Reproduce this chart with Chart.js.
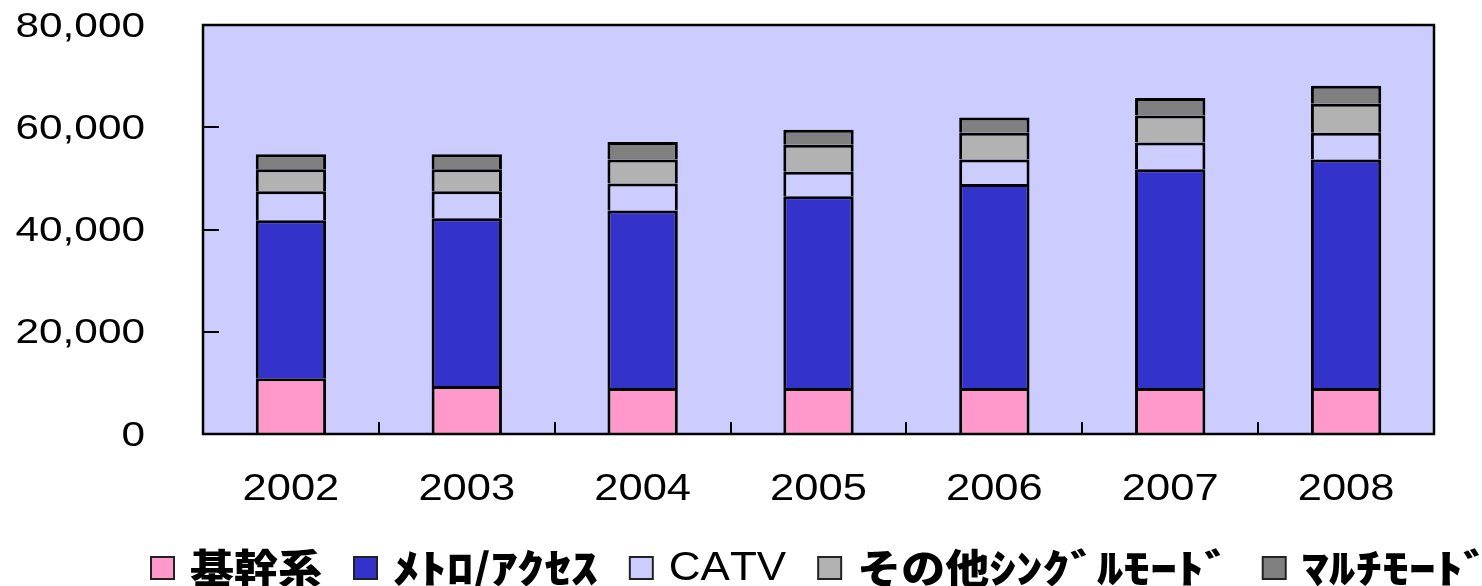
<!DOCTYPE html>
<html>
<head>
<meta charset="utf-8">
<script src="https://cdn.jsdelivr.net/npm/chart.js@4/dist/chart.umd.min.js"></script>
<style>
  html, body { margin: 0; padding: 0; background: #fff; }
  #wrap { width: 1482px; height: 586px; }
</style>
</head>
<body>
<div id="wrap"><canvas id="chart" width="1482" height="586"></canvas></div>
<script>
const years = ["2002", "2003", "2004", "2005", "2006", "2007", "2008"];
const kanshi = [10900, 9400, 9000, 9000, 9000, 9000, 9000];
const metro = [30900, 32800, 34700, 37500, 39900, 42800, 44700];
const catv = [5700, 5300, 5300, 4800, 4800, 5200, 5200];
const otherSingle = [4300, 4300, 4700, 5300, 5200, 5300, 5700];
const multi = [2900, 2900, 3400, 2900, 3000, 3400, 3500];
const yTicks = [0, 20000, 40000, 60000, 80000];

const seriesNames = ["基幹系", "ﾒﾄﾛ/ｱｸｾｽ", "CATV", "その他ｼﾝｸﾞﾙﾓｰﾄﾞ", "ﾏﾙﾁﾓｰﾄﾞ"];
const seriesColors = ["#ff99cc", "#3333cc", "#ccccff", "#b2b2b2", "#808080"];
const seriesData = [kanshi, metro, catv, otherSingle, multi];

// draw text stretched horizontally by sx
function wideText(ctx, txt, x, y, sx, align) {
  ctx.save();
  ctx.translate(x, y);
  ctx.scale(sx, 1);
  ctx.textAlign = align;
  ctx.fillText(txt, 0, 0);
  ctx.restore();
}

// plot background, frame, inward ticks, labels, legend
const decor = {
  id: "decor",
  beforeDatasetsDraw(chart) {
    const { ctx, chartArea: a } = chart;
    ctx.save();
    ctx.fillStyle = "#ccccff";
    ctx.fillRect(a.left, a.top, a.right - a.left, a.bottom - a.top);
    ctx.restore();
  },
  afterDatasetsDraw(chart) {
    const { ctx, chartArea: a } = chart;
    const xs = chart.scales.x, ys = chart.scales.y;
    ctx.save();
    ctx.strokeStyle = "#000";
    ctx.lineWidth = 2.5;
    ctx.strokeRect(a.left, a.top, a.right - a.left, a.bottom - a.top);

    ctx.lineWidth = 2;
    ctx.beginPath();
    ys.ticks.forEach(t => {
      const y = Math.round(ys.getPixelForValue(t.value));
      ctx.moveTo(a.left, y);
      ctx.lineTo(a.left + 16, y);
    });
    for (let i = 1; i < years.length; i++) {
      const x = Math.round((xs.getPixelForValue(i - 1) + xs.getPixelForValue(i)) / 2);
      ctx.moveTo(x, a.bottom);
      ctx.lineTo(x, a.bottom - 12);
    }
    ctx.stroke();

    ctx.fillStyle = "#000";
    ctx.textBaseline = "middle";
    ctx.font = "35px 'Liberation Sans', Arial, sans-serif";
    ys.ticks.forEach(t => {
      wideText(ctx, t.value.toLocaleString("en-US"), 145, ys.getPixelForValue(t.value) + 2, 1.21, "right");
    });
    ctx.font = "37.5px 'Liberation Sans', Arial, sans-serif";
    chart.data.labels.forEach((lab, i) => {
      wideText(ctx, lab, xs.getPixelForValue(i), 490, 1.16, "center");
    });

    // legend
    const jp = "900 40px 'Noto Sans CJK JP', sans-serif";
    const latin = "40px 'Liberation Sans', Arial, sans-serif";
    const SX = 1.1;
    let lx = 151;
    const ly = 568;
    ctx.textAlign = "left";
    chart.data.datasets.forEach(ds => {
      ctx.fillStyle = ds.backgroundColor;
      ctx.fillRect(lx, ly - 11, 23, 22);
      ctx.strokeStyle = "#222";
      ctx.lineWidth = 2;
      ctx.strokeRect(lx, ly - 11, 23, 22);
      lx += 23 + 16;
      ctx.fillStyle = "#000";
      ctx.save();
      ctx.translate(lx, ly);
      ctx.scale(SX, 1);
      let cx = 0;
      for (const ch of ds.label) {
        const isLatin = /[A-Za-z]/.test(ch);
        ctx.font = isLatin ? latin : jp;
        const f = /[\uFF61-\uFF9F]/.test(ch) ? 1.22 : 1;
        const w = ctx.measureText(ch).width;
        ctx.save();
        ctx.translate(cx, isLatin ? 1 : 0);
        ctx.scale(f, 1);
        ctx.fillText(ch, 0, 0);
        ctx.restore();
        cx += w * f;
      }
      ctx.restore();
      lx += cx * SX + 32;
    });
    ctx.restore();
  }
};

new Chart(document.getElementById("chart"), {
  type: "bar",
  data: {
    labels: years,
    datasets: seriesNames.map((name, i) => ({
      label: name,
      data: seriesData[i],
      backgroundColor: seriesColors[i],
      borderColor: "#000",
      borderWidth: 3,
      barPercentage: 0.4,
      categoryPercentage: 1.0
    }))
  },
  options: {
    responsive: false,
    animation: false,
    layout: { padding: { left: 203, right: 48, top: 25, bottom: 152 } },
    plugins: { legend: { display: false }, tooltip: { enabled: false } },
    scales: {
      x: { display: false, stacked: true },
      y: {
        display: false, stacked: true, min: 0, max: 80000,
        afterBuildTicks: s => { s.ticks = yTicks.map(v => ({ value: v })); }
      }
    }
  },
  plugins: [decor]
});
</script>
</body>
</html>
